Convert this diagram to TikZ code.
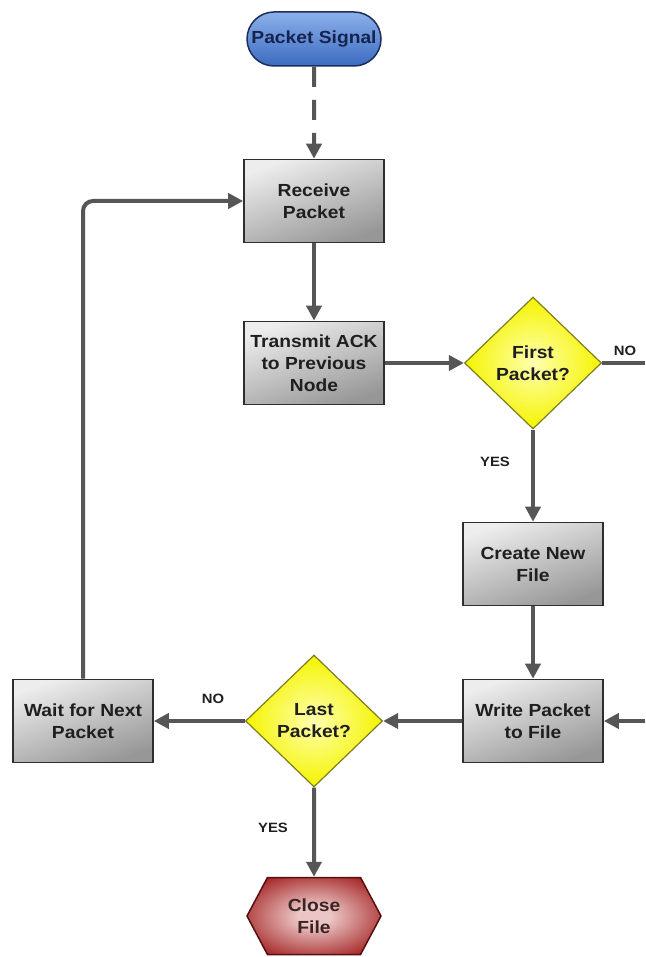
\documentclass[tikz,border=0pt]{standalone}
\usepackage{fontspec}
\setmainfont{Liberation Sans}[FakeStretch=1.1]
\usetikzlibrary{arrows.meta,shapes.geometric,shapes.misc,shapes.symbols}

\definecolor{flowline}{HTML}{565656}
\definecolor{boxedge}{HTML}{2E2E2E}
\definecolor{boxlight}{HTML}{EDEDED}
\definecolor{boxdark}{HTML}{979797}
\definecolor{decedge}{HTML}{7D7D22}
\definecolor{declight}{HTML}{FFFFB0}
\definecolor{decdark}{HTML}{F4F400}
\definecolor{termtop}{HTML}{8DB0EA}
\definecolor{termbottom}{HTML}{3C6BC0}
\definecolor{termedge}{HTML}{1B2D5A}
\definecolor{termtext}{HTML}{14244F}
\definecolor{endred}{HTML}{A52828}
\definecolor{enddeep}{HTML}{7E1414}
\definecolor{endlight}{HTML}{ECC6C6}
\definecolor{textdark}{HTML}{1F1F1F}
\definecolor{endtext}{HTML}{3A2424}

% soft glow for the closing terminal
\pgfdeclareradialshading{closeglow}{\pgfpoint{0bp}{0bp}}{%
  color(0bp)=(endlight); color(6bp)=(endlight); color(30bp)=(endred);
  color(42bp)=(enddeep); color(50bp)=(enddeep)}

\tikzset{
  every node/.style={font=\fontsize{17.5}{22}\selectfont\bfseries, align=center, text=textdark},
  procbox/.style={rectangle, draw=boxedge, line width=1.6pt,
    minimum width=140pt, minimum height=83pt, inner sep=2pt,
    top color=boxlight, bottom color=boxdark, shading angle=20},
  decision/.style={diamond, draw=decedge, line width=1.2pt, inner sep=0pt,
    minimum width=137pt, minimum height=132pt,
    inner color=declight, outer color=decdark},
  startterm/.style={rounded rectangle, draw=termedge, line width=1.5pt,
    minimum width=138pt, minimum height=54pt, inner sep=2pt,
    top color=termtop, bottom color=termbottom, text=termtext},
  endterm/.style={signal, signal to=east and west, signal pointer angle=124,
    draw=enddeep!70!black, line width=1.5pt,
    minimum width=134pt, minimum height=77pt, inner sep=2pt,
    shading=closeglow, text=endtext},
  answer/.style={font=\fontsize{13.5}{16}\selectfont\bfseries, text=textdark},
  flow/.style={draw=flowline, line width=4pt,
    -{Triangle[length=15pt,width=15pt]}},
  plainflow/.style={draw=flowline, line width=4pt},
  dashflow/.style={flow, dash pattern=on 20pt off 13pt}
}

\begin{document}
\begin{tikzpicture}[x=1pt,y=-1pt]
  \useasboundingbox (0,0) rectangle (645,957);

  % nodes of the flow chart
  \node[startterm] (sig) at (314,39) {Packet Signal};
  \node[procbox] (recv) at (314,201) {Receive\\Packet};
  \node[procbox] (tx) at (314,363) {Transmit ACK\\to Previous\\Node};
  \node[decision] (first) at (533,363) {First\\Packet?};
  \node[procbox] (create) at (533,564) {Create New\\File};
  \node[procbox] (write) at (533,721) {Write Packet\\to File};
  \node[decision] (last) at (314,721) {Last\\Packet?};
  \node[procbox] (wait) at (83,721) {Wait for Next\\Packet};
  \node[endterm] (close) at (314,916) {Close\\File};

  % loose ends running off the right side
  \coordinate (noR) at (645,363);
  \coordinate (inR) at (645,721);

  % connectors
  \draw[dashflow] (sig) -- (recv);
  \draw[flow] (recv) -- (tx);
  \draw[flow] (tx.east) -- (first.west);
  \draw[plainflow] (first.east) -- (noR);
  \draw[flow] (first) -- (create);
  \draw[flow] (create) -- (write);
  \draw[flow] (inR) -- (write.east);
  \draw[flow] (write.west) -- (last.east);
  \draw[flow] (last.west) -- (wait.east);
  \draw[flow] (last) -- (close);
  \draw[flow, rounded corners=10pt] (wait.north) |- (recv.west);

  % branch labels
  \node[answer] (noFirst) at (625,351) {NO};
  \node[answer] (yesFirst) at (495,462) {YES};
  \node[answer] (noLast) at (213,699) {NO};
  \node[answer] (yesLast) at (273,828) {YES};
\end{tikzpicture}
\end{document}
